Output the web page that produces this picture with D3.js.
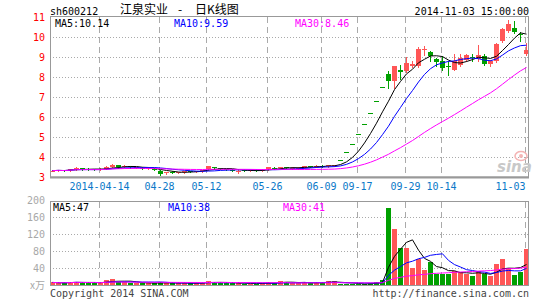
<!DOCTYPE html>
<html>
<head>
<meta charset="utf-8">
<script src="https://cdn.jsdelivr.net/npm/d3@7"></script>
<style>
html,body{margin:0;padding:0;background:#fff;}
svg{display:block;}
text{font-family:"DejaVu Sans Mono","Liberation Mono",monospace;font-size:10px;}
</style>
</head>
<body>
<div id="chart"></div>
<script>
// ---------- data ----------
const stockCode = "sh600212";
const stockName = "江泉实业";
const chartTitle = "日K线图";
const stamp = "2014-11-03 15:00:00";
const priceMaLabels = ["MA5:10.14", "MA10:9.59", "MA30:8.46"];
const volMaLabels = ["MA5:47", "MA10:38", "MA30:41"];
const dates = [
"2014-04-01","2014-04-02","2014-04-03","2014-04-04","2014-04-08","2014-04-09","2014-04-10","2014-04-11",
"2014-04-14","2014-04-15","2014-04-16","2014-04-17","2014-04-18",
"2014-04-21","2014-04-22","2014-04-23","2014-04-24","2014-04-25",
"2014-04-28","2014-04-29","2014-04-30",
"2014-05-05","2014-05-06","2014-05-07","2014-05-08","2014-05-09",
"2014-05-12","2014-05-13","2014-05-14","2014-05-15","2014-05-16",
"2014-05-19","2014-05-20","2014-05-21","2014-05-22","2014-05-23",
"2014-05-26","2014-05-27","2014-05-28","2014-05-29","2014-05-30",
"2014-06-03","2014-06-04","2014-06-05","2014-06-06",
"2014-06-09","2014-06-10","2014-06-11",
"2014-09-12","2014-09-15","2014-09-16",
"2014-09-17","2014-09-18","2014-09-19","2014-09-22","2014-09-23","2014-09-24","2014-09-25","2014-09-26",
"2014-09-29","2014-09-30","2014-10-08","2014-10-09","2014-10-10","2014-10-13",
"2014-10-14","2014-10-15","2014-10-16","2014-10-17",
"2014-10-20","2014-10-21","2014-10-22","2014-10-23","2014-10-24",
"2014-10-27","2014-10-28","2014-10-29","2014-10-30","2014-10-31",
"2014-11-03"];
const openP = [3.31,3.31,3.36,3.33,3.39,3.45,3.42,3.40, 3.37,3.42,3.52,3.61,3.51, 3.53,3.46,3.47,3.41,3.42,
 3.32,3.19,3.24, 3.22,3.26,3.29,3.26,3.30, 3.38,3.50,3.45,3.40,3.36, 3.28,3.33,3.31,3.34,3.32,
 3.36,3.47,3.44,3.50,3.45, 3.43,3.47,3.55,3.53, 3.57,3.53,3.55, 3.84,4.24,4.66,
 5.13,5.64,6.20,6.82,7.50,8.16,7.79,8.34, 8.29,8.54,8.55,9.33,9.26,8.92,
 8.79,8.56,8.37,8.62, 8.84,8.98,8.88,9.04,8.63, 8.79,9.79,10.29,10.46,10.14, 9.15];
const highP = [3.33,3.36,3.37,3.42,3.50,3.46,3.44,3.42, 3.43,3.53,3.63,3.62,3.58, 3.55,3.52,3.48,3.46,3.43,
 3.33,3.26,3.28, 3.27,3.30,3.30,3.32,3.36, 3.56,3.52,3.46,3.42,3.38, 3.34,3.35,3.34,3.36,3.36,
 3.50,3.49,3.52,3.51,3.48, 3.48,3.56,3.56,3.59, 3.59,3.60,3.60, 3.84,4.24,4.66,
 5.13,5.64,6.20,6.82,7.50,8.29,8.55,8.62, 8.99,8.79,9.49,9.54,9.30,8.95,
 9.04,8.79,9.16,9.16, 9.14,9.16,9.59,9.16,8.87, 9.68,10.46,10.83,10.79,10.26, 9.70];
const lowP = [3.30,3.29,3.28,3.31,3.37,3.36,3.36,3.33, 3.35,3.40,3.50,3.47,3.48, 3.46,3.44,3.40,3.38,3.33,
 3.09,3.15,3.20, 3.19,3.22,3.24,3.25,3.27, 3.36,3.40,3.38,3.34,3.28, 3.22,3.30,3.29,3.30,3.31,
 3.35,3.42,3.43,3.45,3.42, 3.42,3.46,3.50,3.52, 3.52,3.52,3.54, 3.84,4.24,4.66,
 5.13,5.64,6.20,6.82,7.50,7.43,7.45,7.88, 8.27,8.49,8.49,9.12,8.79,8.55,
 8.37,8.12,8.35,8.54, 8.80,8.79,8.80,8.62,8.54, 8.77,9.76,10.27,10.21,9.79, 9.10];
const closeP = [3.32,3.34,3.31,3.40,3.46,3.38,3.38,3.36, 3.40,3.50,3.60,3.50,3.55, 3.48,3.49,3.42,3.44,3.36,
 3.17,3.24,3.22, 3.25,3.28,3.26,3.30,3.35, 3.54,3.46,3.40,3.36,3.31, 3.32,3.32,3.33,3.31,3.35,
 3.48,3.44,3.50,3.46,3.46, 3.45,3.54,3.52,3.57, 3.54,3.58,3.58, 3.84,4.24,4.66,
 5.13,5.64,6.20,6.82,7.50,7.79,8.54,8.24, 8.71,8.66,9.41,9.41,9.07,8.76,
 8.46,8.53,8.79,8.96, 9.12,8.95,9.12,8.66,8.79, 9.66,10.38,10.63,10.26,10.10, 9.35];
const volume = [6,5,5,7,8,5,5,5, 5,12,14,8,6, 5,5,4,5,4, 7,5,4, 4,5,4,5,5, 10,6,5,4,4, 5,3,3,3,4,
 8,4,10,7,4, 4,6,5,6, 5,10,9, 2,2,2,
 3,3,4,7,12,182,132,88, 88,41,61,35,53,27,
 27,27,33,31, 26,21,33,25,22, 49,61,41,24,30, 85];
const tickDates = ["2014-04-14","2014-04-28","2014-05-12","2014-05-26","2014-06-09","2014-09-17","2014-09-29","2014-10-14","2014-11-03"];
const tickLabels = ["2014-04-14","04-28","05-12","05-26","06-09","09-17","09-29","10-14","11-03"];
const priceTicks = [3,4,5,6,7,8,9,10,11];
const volTicks = [40,80,120,160,200];
const volUnit = "x万";
const copyright = "Copyright 2014 SINA.COM";
const siteUrl = "http://finance.sina.com.cn";

// ---------- styles ----------
const UP = "#ff5656", DOWN = "#00a000";
const MA_COLORS = ["#000000", "#0000ff", "#ff00ff"];
const MA_N = [5, 10, 30];

const W = 545, H = 300;
const L = 50, R = 529;
const svg = d3.select("#chart").append("svg").attr("width", W).attr("height", H);
svg.append("rect").attr("width", W).attr("height", H).attr("fill", "#fff");

const n = dates.length;
const idx = d3.range(n);
const x = d3.scaleLinear().domain([0, n - 1]).range([52.5, 526.5]);
const y = d3.scaleLinear().domain([3, 11]).range([177, 17]);
const vy = d3.scaleLinear().domain([0, 200]).range([285, 200]);
const gx = i => x(i) - 2;

function ma(arr, k) {
  return arr.map((_, i) => {
    const s = Math.max(0, i - k + 1);
    return d3.mean(arr.slice(s, i + 1));
  });
}
const colorOf = i => closeP[i] > openP[i] ? UP : DOWN;

// ---------- header ----------
svg.append("text").attr("x", 50).attr("y", 15).attr("fill", "#000").text(stockCode);
svg.append("text").attr("x", 120).attr("y", 14).attr("fill", "#000")
  .style("font-family", "'Noto Sans CJK SC',sans-serif").style("font-size", "12px").text(stockName);
svg.append("text").attr("x", 180).attr("y", 14).attr("text-anchor", "middle").attr("fill", "#000")
  .style("font-family", "'Noto Sans CJK SC',sans-serif").style("font-size", "12px").text("-");
svg.append("text").attr("x", 195).attr("y", 14).attr("fill", "#000")
  .style("font-family", "'Noto Sans CJK SC',sans-serif").style("font-size", "12px").text(chartTitle);
svg.append("text").attr("x", R).attr("y", 15).attr("text-anchor", "end").attr("fill", "#000").text(stamp);

// ---------- main panel ----------
const main = svg.append("g");
main.selectAll("line.hg").data(priceTicks.filter(v => v > 3 && v < 11)).join("line")
  .attr("x1", L).attr("x2", R).attr("y1", d => Math.round(y(d)) + 0.5).attr("y2", d => Math.round(y(d)) + 0.5)
  .attr("stroke", "#aaa").attr("stroke-dasharray", "1,2");
const tickIdx = tickDates.map(d => dates.indexOf(d));
main.selectAll("line.vg").data(tickIdx).join("line")
  .attr("x1", d => Math.round(gx(d)) + 0.5).attr("x2", d => Math.round(gx(d)) + 0.5)
  .attr("y1", 17).attr("y2", 177)
  .attr("stroke", "#aaa").attr("stroke-dasharray", "6,4");

svg.selectAll("text.pl").data(priceTicks).join("text")
  .attr("x", 45).attr("y", d => y(d)).attr("dy", "0.35em").attr("text-anchor", "end")
  .attr("fill", "#ff0000").text(d => d);
// date labels (last one kept inside the panel)
svg.selectAll("text.dl").data(tickIdx).join("text")
  .attr("x", d => Math.round(gx(d)) + 0.5).attr("y", 190)
  .attr("text-anchor", (d, i) => i === tickIdx.length - 1 ? "end" : "middle")
  .attr("fill", "#0a78c8").text((d, i) => tickLabels[i]);

// watermark
const wm = svg.append("g");
wm.append("ellipse").attr("cx", 521).attr("cy", 156).attr("rx", 6).attr("ry", 4.5)
  .attr("fill", "none").attr("stroke", "#f4b4b4").attr("stroke-width", 1.5);
wm.append("circle").attr("cx", 521).attr("cy", 156).attr("r", 2).attr("fill", "#f4b4b4");
wm.append("text").attr("x", 497).attr("y", 172).attr("fill", "#c8c8c8")
  .style("font-family", "'DejaVu Sans',sans-serif").style("font-size", "15px")
  .style("font-style", "italic").style("font-weight", "bold").text("sina");

// candles
const cg = main.append("g");
cg.selectAll("line.wick").data(idx).join("line")
  .attr("x1", i => x(i)).attr("x2", i => x(i))
  .attr("y1", i => Math.round(y(highP[i]))).attr("y2", i => Math.round(y(lowP[i])) + 1)
  .attr("stroke", colorOf);
cg.selectAll("rect.body").data(idx).join("rect")
  .attr("x", i => x(i) - 2.5).attr("width", 5)
  .attr("y", i => Math.round(y(Math.max(openP[i], closeP[i]))))
  .attr("height", i => Math.max(1, Math.round(y(Math.min(openP[i], closeP[i]))) - Math.round(y(Math.max(openP[i], closeP[i])))))
  .attr("fill", colorOf).attr("shape-rendering", "crispEdges");

MA_N.forEach((k, j) => {
  const m = ma(closeP, k);
  main.append("path").datum(idx)
    .attr("d", d3.line().x(i => x(i)).y(i => y(m[i])))
    .attr("fill", "none").attr("stroke", MA_COLORS[j]).attr("stroke-width", 1);
});

main.append("rect").attr("x", L + 0.5).attr("y", 16.5).attr("width", R - L - 1).attr("height", 160.5)
  .attr("fill", "none").attr("stroke", "#999");
main.append("line").attr("x1", L).attr("x2", R).attr("y1", 177.5).attr("y2", 177.5).attr("stroke", "#999").attr("stroke-width", 2);

const maX = [55, 174, 295];
priceMaLabels.forEach((t, j) => {
  svg.append("text").attr("x", maX[j]).attr("y", 27).attr("fill", MA_COLORS[j]).text(t);
});

// ---------- volume panel ----------
const vol = svg.append("g");
vol.selectAll("line.hg").data(volTicks.filter(v => v < 200)).join("line")
  .attr("x1", L).attr("x2", R).attr("y1", d => Math.round(vy(d)) + 0.5).attr("y2", d => Math.round(vy(d)) + 0.5)
  .attr("stroke", "#aaa").attr("stroke-dasharray", "1,2");
vol.selectAll("line.vg").data(tickIdx).join("line")
  .attr("x1", d => Math.round(gx(d)) + 0.5).attr("x2", d => Math.round(gx(d)) + 0.5)
  .attr("y1", 202).attr("y2", 285)
  .attr("stroke", "#aaa").attr("stroke-dasharray", "6,4");
svg.selectAll("text.vl").data(volTicks).join("text")
  .attr("x", 45).attr("y", d => vy(d)).attr("dy", "0.35em").attr("text-anchor", "end")
  .attr("fill", "#a8a8a8").text(d => d);
svg.append("text").attr("x", 45).attr("y", 289).attr("text-anchor", "end").attr("fill", "#a8a8a8")
  .style("font-family", "'Noto Sans CJK SC',sans-serif").style("font-size", "10px").text(volUnit);

vol.selectAll("rect.vb").data(idx).join("rect")
  .attr("x", i => x(i) - 2.5).attr("width", 5)
  .attr("y", i => Math.round(vy(volume[i])))
  .attr("height", i => 285 - Math.round(vy(volume[i])))
  .attr("fill", colorOf).attr("shape-rendering", "crispEdges");

MA_N.forEach((k, j) => {
  const m = ma(volume, k);
  vol.append("path").datum(idx)
    .attr("d", d3.line().x(i => x(i)).y(i => vy(m[i])))
    .attr("fill", "none").attr("stroke", MA_COLORS[j]).attr("stroke-width", 1);
});
vol.append("rect").attr("x", L + 0.5).attr("y", 201.5).attr("width", R - L - 1).attr("height", 84)
  .attr("fill", "none").attr("stroke", "#999");

const vmaX = [53, 168, 283];
volMaLabels.forEach((t, j) => {
  svg.append("text").attr("x", vmaX[j]).attr("y", 211).attr("fill", MA_COLORS[j]).text(t);
});

// footer
svg.append("text").attr("x", 50).attr("y", 297).attr("fill", "#444").text(copyright);
svg.append("text").attr("x", R).attr("y", 297).attr("text-anchor", "end").attr("fill", "#444").text(siteUrl);
</script>
</body>
</html>
